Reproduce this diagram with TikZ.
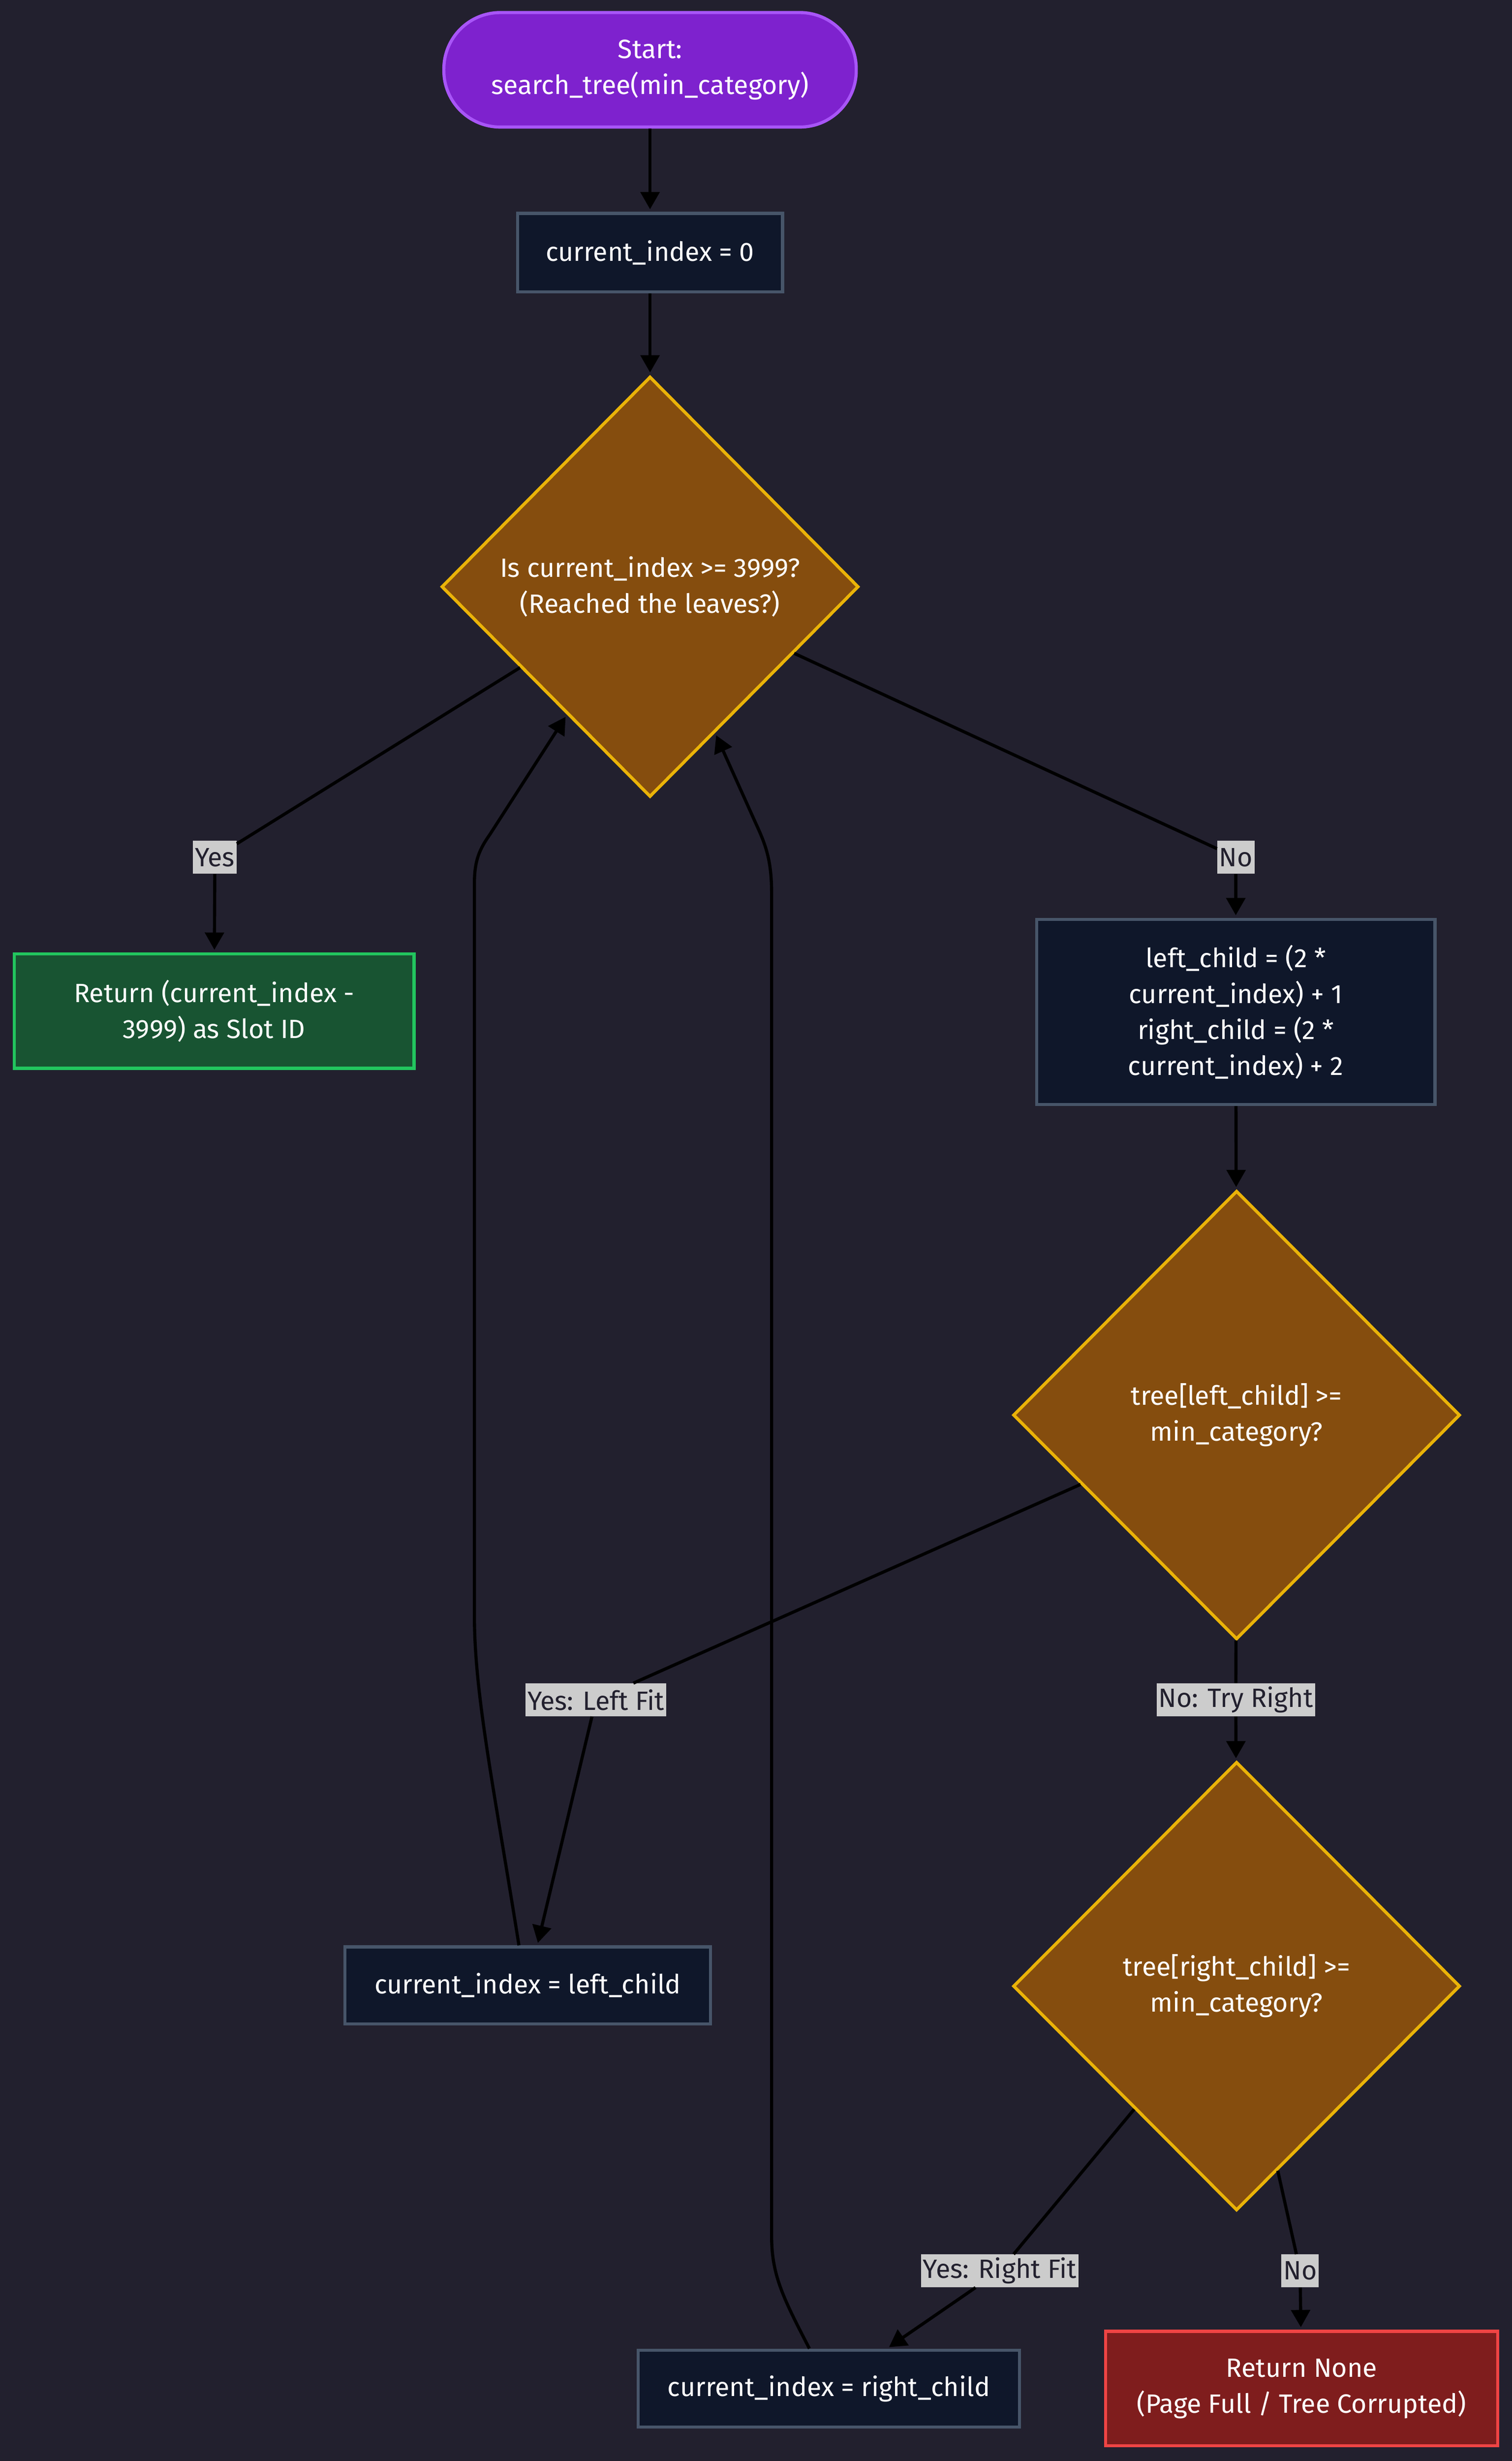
\documentclass[tikz,border=0pt]{standalone}
\usepackage{fontspec}
\setmainfont{Fira Sans}
\usetikzlibrary{shapes.geometric,arrows.meta}
\definecolor{bgc}{HTML}{22202E}
\definecolor{startfill}{HTML}{7E22CE}
\definecolor{startline}{HTML}{A855F7}
\definecolor{procfill}{HTML}{0F172A}
\definecolor{procline}{HTML}{475569}
\definecolor{decfill}{HTML}{854D0E}
\definecolor{decline}{HTML}{EAB308}
\definecolor{okfill}{HTML}{185432}
\definecolor{okline}{HTML}{22C55E}
\definecolor{errfill}{HTML}{7F1D1D}
\definecolor{errline}{HTML}{EF4444}
\definecolor{lblfill}{HTML}{CCCCCC}
\definecolor{lbltext}{HTML}{22202E}
\tikzset{
  basenode/.style={text=white, align=center, inner sep=0pt, line width=0.1cm,
    font=\fontsize{24}{32.6}\selectfont},
  startbox/.style={basenode, rectangle, rounded corners=1.8cm, fill=startfill, draw=startline},
  procbox/.style={basenode, rectangle, fill=procfill, draw=procline},
  decision/.style={basenode, diamond, fill=decfill, draw=decline},
  okbox/.style={basenode, rectangle, fill=okfill, draw=okline},
  errbox/.style={basenode, rectangle, fill=errfill, draw=errline},
  edgelabel/.style={rectangle, fill=lblfill, text=lbltext, inner xsep=0.06cm, inner ysep=0pt,
    minimum height=1.05cm, font=\fontsize{24}{26}\selectfont},
  conn/.style={draw=black, line width=0.1cm, -{Triangle[length=0.55cm,width=0.6cm]}, shorten >=0.08cm},
  plainline/.style={draw=black, line width=0.1cm}
}
\begin{document}
\begin{tikzpicture}[x=0.05cm, y=-0.05cm]
\useasboundingbox (0,0) rectangle (964,1568.7);
\fill[bgc] (0,0) rectangle (964,1568.7);

% nodes
\node[startbox, minimum width=13.15cm, minimum height=3.65cm] (start) at (414.5,44.5) {Start:\\search\_tree(min\_category)};
\node[procbox, minimum width=8.45cm, minimum height=2.5cm] (ci0) at (414.5,161) {current\_index = 0};
\node[decision, minimum width=13.3cm, minimum height=13.4cm] (d1) at (414.5,374) {Is current\_index >= 3999?\\(Reached the leaves?)};
\node[okbox, minimum width=12.75cm, minimum height=3.65cm] (ok) at (136.5,644.5) {Return (current\_index -\\3999) as Slot ID};
\node[procbox, minimum width=12.7cm, minimum height=5.9cm] (calc) at (788,645) {left\_child = (2 *\\current\_index) + 1\\right\_child = (2 *\\current\_index) + 2};
\node[decision, minimum width=14.25cm, minimum height=14.3cm] (d2) at (788.5,902) {tree[left\_child] >=\\min\_category?};
\node[decision, minimum width=14.25cm, minimum height=14.3cm] (d3) at (788.5,1266) {tree[right\_child] >=\\min\_category?};
\node[procbox, minimum width=11.65cm, minimum height=2.45cm] (cil) at (336.5,1265.5) {current\_index = left\_child};
\node[procbox, minimum width=12.15cm, minimum height=2.45cm] (cir) at (528.5,1522.5) {current\_index = right\_child};
\node[errbox, minimum width=12.5cm, minimum height=3.65cm] (err) at (830,1522.5) {Return None\\(Page Full / Tree Corrupted)};

% edge labels
\node[edgelabel] (lyes1) at (137,546.5) {Yes};
\node[edgelabel] (lno1) at (788,546.5) {No};
\node[edgelabel] (lyes2) at (380,1083.5) {Yes: Left Fit};
\node[edgelabel] (lno2) at (788,1083.5) {No: Try Right};
\node[edgelabel] (lyes3) at (637.5,1447.5) {Yes: Right Fit};
\node[edgelabel] (lno3) at (829,1447.5) {No};

% connectors
\draw[conn] (start) -- (ci0);
\draw[conn] (ci0) -- (d1);
\draw[conn] (d1) -- (lyes1) -- (ok);
\draw[conn] (d1) -- (lno1) -- (calc);
\draw[conn] (calc) -- (d2);
\draw[conn] (d2) -- (lyes2) -- (cil);
\draw[conn] (d2) -- (lno2) -- (d3);
\draw[conn] (d3) -- (lyes3) -- (cir);
\draw[conn] (d3) -- (lno3) -- (err);

% loop backs
\draw[conn] ([xshift=-0.28cm]cil.north) .. controls (315,1140) and (302.5,1080) .. (302.5,1030)
  -- (302.5,563) .. controls (302.5,548) and (306,541) .. (312.5,531.7) -- (d1.-123);
\draw[conn] ([xshift=-0.62cm]cir.north) .. controls (499,1464) and (492,1450) .. (492,1425)
  -- (492,569) .. controls (492,548) and (488,538) .. (482,525) -- (d1.-66);
\end{tikzpicture}
\end{document}
